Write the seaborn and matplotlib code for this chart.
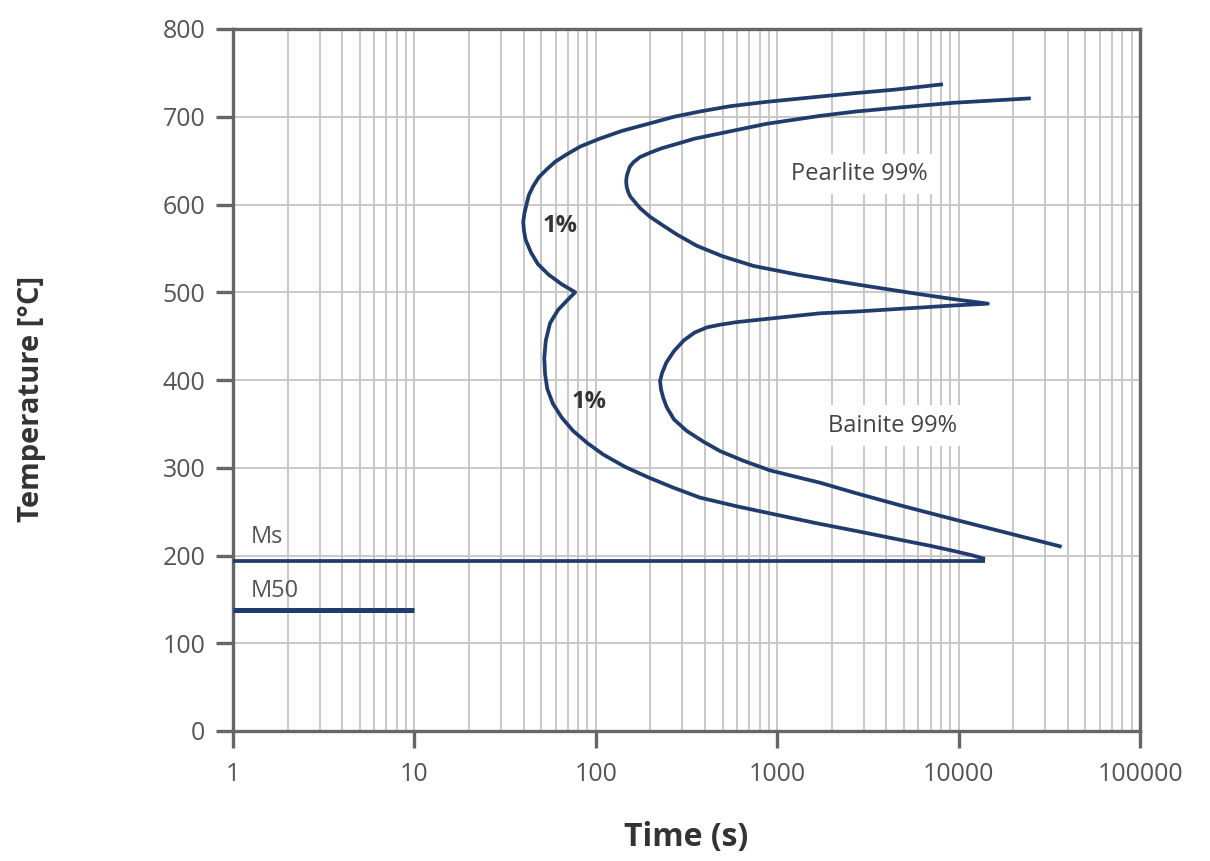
import matplotlib
matplotlib.use("Agg")
import matplotlib.pyplot as plt
import seaborn as sns
import numpy as np
from matplotlib.ticker import FixedLocator, NullFormatter, LogLocator

# ---- data ----
# 1% curve (pearlite start + bainite start): time [s], temperature [°C]
start_time = [8200, 4500, 2720, 1720, 875, 550, 375, 270, 195, 140, 105, 82, 69, 60, 53.6, 48.5,
              45.2, 42.8, 41.6, 40.4, 39.8,
              40.2, 41, 44, 48, 55, 65, 77,
              72, 62, 56, 53, 52, 52.5, 54, 58, 65, 75, 90, 110, 145, 195, 270, 375, 600, 913,
              1250, 1720, 2720, 5000, 7000, 9500, 12000, 14000]
start_temp = [737, 731, 727, 723, 717, 712, 706, 700, 692, 684, 675, 666, 657, 649, 640, 631,
              621, 611, 601, 590, 580,
              570, 560, 545, 532, 520, 509, 500,
              494, 480, 465, 445, 425, 407, 390, 373, 357, 342, 328, 315, 301, 289, 277, 266, 256, 248,
              242, 236, 228, 217, 211, 205, 200, 196]

# 99% curve (pearlite finish + bainite finish)
finish_time = [25000, 9500, 5000, 2720, 1720, 875, 484, 350, 279, 230, 199, 175, 161, 154, 151, 148,
               147, 148, 151, 155, 161, 175, 199, 235, 279, 360, 500, 740, 1300, 2720, 6000, 9500, 14500,
               9500, 2720, 1720, 913, 600, 484, 410, 350, 305, 270, 245, 232, 226, 229, 236, 246, 270,
               317, 390, 484, 650, 913, 1250, 1720, 2720, 5000, 9500, 20000, 37000]
finish_temp = [721, 716, 711, 706, 701, 692, 681, 675, 669, 664, 659, 654, 648, 643, 638, 632,
               626, 620, 614, 609, 605, 596, 586, 576, 566, 553, 541, 530, 520, 509, 498, 492, 487,
               485, 478, 476, 470, 466, 463, 460, 454, 445, 433, 420, 408, 399, 389, 379, 369, 355,
               342, 330, 319, 308, 297, 290, 283, 271, 256, 241, 224, 210]

ms_time = [1, 14000]
ms_temp = [194, 194]
m50_time = [1, 10]
m50_temp = [138, 138]

x_ticks = [1, 10, 100, 1000, 10000, 100000]
x_tick_labels = ["1", "10", "100", "1000", "10000", "100000"]
y_ticks = [0, 100, 200, 300, 400, 500, 600, 700, 800]

labels_text = ["Pearlite 99%", "Bainite 99%", "1%", "1%", "Ms", "M50"]
labels_t = [2830, 4330, 63.5, 92, 1.25, 1.25]
labels_T = [635, 348, 575, 375, 221, 159]

# ---- style ----
sns.set_theme(style="white")
plt.rcParams['font.family'] = ['Open Sans', 'DejaVu Sans']

curve_color = "#1f3c6d"
grid_color = "#c4c4c4"
spine_color = "#666666"
text_color = "#555555"

fig = plt.figure(figsize=(12.10, 8.61), dpi=100)
ax = fig.add_axes([233/1210, 1-731/861, (1140-233)/1210, (731-29)/861])

ax.set_xscale("log")
ax.set_xlim(1, 100000)
ax.set_ylim(0, 800)

# grid
ax.xaxis.set_major_locator(FixedLocator(x_ticks))
ax.xaxis.set_minor_locator(LogLocator(base=10, subs=np.arange(2, 10), numticks=20))
ax.xaxis.set_minor_formatter(NullFormatter())
ax.set_xticks(x_ticks)
ax.set_xticklabels(x_tick_labels)
ax.set_yticks(y_ticks)
ax.grid(which="major", axis="both", color=grid_color, lw=1.3, zorder=0)
ax.grid(which="minor", axis="x", color=grid_color, lw=1.3, zorder=0)
ax.set_axisbelow(True)

# curves
line_kw = dict(sort=False, estimator=None, ax=ax, color=curve_color, zorder=3)
sns.lineplot(x=start_time, y=start_temp, lw=2.7, **line_kw)
sns.lineplot(x=finish_time, y=finish_temp, lw=2.7, **line_kw)
sns.lineplot(x=ms_time, y=ms_temp, lw=2.7, **line_kw)
sns.lineplot(x=m50_time, y=m50_temp, lw=3.6, **line_kw)
for ln in ax.get_lines():
    ln.set_solid_joinstyle("round")
    ln.set_solid_capstyle("butt")

# annotations
for txt, t, T in zip(labels_text, labels_t, labels_T):
    if txt in ("Pearlite 99%", "Bainite 99%"):
        ax.text(t, T, txt, ha="center", va="center", fontsize=17, color="#444444",
                bbox=dict(facecolor="white", edgecolor="none", pad=6), zorder=4)
    elif txt == "1%":
        ax.text(t, T, txt, ha="center", va="center", fontsize=17, color="#333333",
                fontweight="bold", zorder=4)
    else:
        ax.text(t, T, txt, ha="left", va="center", fontsize=17, color="#555555", zorder=4)

# spines & ticks
for s in ax.spines.values():
    s.set_visible(True)
    s.set_color(spine_color)
    s.set_linewidth(2.4)
ax.tick_params(axis="both", which="major", direction="out", length=12, width=2.4,
               color=spine_color, labelsize=18, labelcolor=text_color, pad=8,
               bottom=True, left=True)
ax.tick_params(axis="x", which="major", pad=10)
ax.tick_params(axis="x", which="minor", bottom=False)

ax.set_xlabel("Time (s)", fontsize=23, fontweight="bold", color="#333333")
ax.set_ylabel("Temperature [°C]", fontsize=21, fontweight="bold", color="#333333")
ax.xaxis.set_label_coords(0.5, -0.152)
ax.yaxis.set_label_coords(-0.222, 0.473)
ax.yaxis.label.set_va("center")
ax.xaxis.label.set_va("center")

fig.savefig("out.png", dpi=100)
